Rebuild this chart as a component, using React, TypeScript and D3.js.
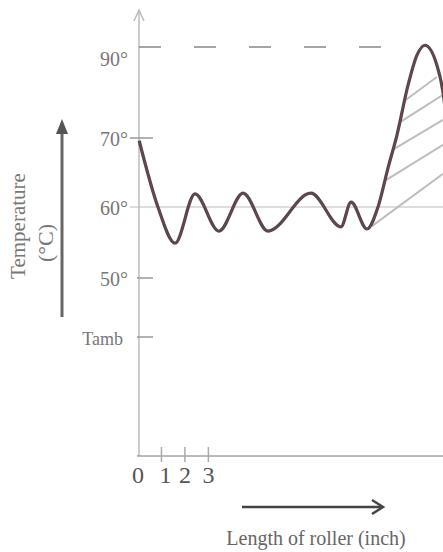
import React from "react";
import * as d3 from "d3";

// roller length (inch) vs temperature (°C), schematic
const curveX = [0.05, 0.85, 1.58, 2.43, 3.45, 4.48, 5.54, 7.37, 8.65, 9.08, 9.76, 10.23, 10.66, 11.04, 11.51, 11.89, 12.23, 12.74, 13.0, 13.17];
const curveT = [69.6, 60, 54.9, 61.9, 56.6, 62.0, 56.6, 62.0, 57.2, 60.7, 56.9, 60, 65.7, 70.7, 81.6, 88.2, 90.4, 86.0, 80.1, 72.9];

// hatch lines across the hot zone: [x1, t1, x2, t2]
const hatch = [
  [11.42, 78.4, 12.74, 83.4],
  [11.17, 73.5, 13.0, 79.5],
  [10.87, 68.3, 13.0, 74.0],
  [10.57, 63.9, 13.0, 69.0],
  [9.97, 57.3, 13.0, 64.8],
];

const yTickValues = [90, 70, 60, 50, 40];
const yTickLabels = ["90°", "70°", "60°", "50°", "Tamb"];
const xTickValues = [0, 1, 2, 3];
const xTickLabels = ["0", "1", "2", "3"];

const W = 443;
const H = 552;

export default function App() {
  const x = d3.scaleLinear().domain([0, 13]).range([138, 443]);
  // piecewise, as drawn in the sketch
  const y = d3
    .scaleLinear()
    .domain([20, 40, 50, 60, 70, 90, 98])
    .range([456, 337, 278, 207, 138, 47, 12]);

  const pts: [number, number][] = curveX.map((d, i) => [d, curveT[i]]);
  const line = d3
    .line<[number, number]>()
    .x((d) => x(d[0]))
    .y((d) => y(d[1]))
    .curve(d3.curveMonotoneX);
  const path = line(pts) || "";

  const axisX = x(0) + 1;

  return (
    <svg
      width={W}
      height={H}
      style={{ position: "absolute", left: 0, top: 0, background: "#fff" }}
    >
      <defs>
        <clipPath id="plot">
          <rect x={0} y={0} width={W} height={H} />
        </clipPath>
      </defs>

      {/* y axis with open arrow */}
      <line x1={axisX} y1={y(98)} x2={axisX} y2={y(20)} stroke="#bbb" strokeWidth={1.5} />
      <path
        d={`M${axisX - 5},${y(98) + 9} L${axisX},${y(98) - 2} L${axisX + 5},${y(98) + 9}`}
        fill="none"
        stroke="#bbb"
        strokeWidth={1.5}
      />

      {/* x axis */}
      <line x1={x(0) - 1} y1={y(20)} x2={W} y2={y(20)} stroke="#777" strokeWidth={1} />
      {xTickValues.slice(1).map((v) => (
        <line key={v} x1={x(v)} x2={x(v)} y1={y(20) - 9} y2={y(20) + 6} stroke="#aaa" strokeWidth={1.5} />
      ))}
      {xTickValues.map((v, i) => (
        <text
          key={v}
          x={x(v) + (i === 1 ? 4 : 0)}
          y={483}
          textAnchor="middle"
          fontFamily="Liberation Sans Narrow"
          fontSize={24}
          fill="#555"
        >
          {xTickLabels[i]}
        </text>
      ))}

      {/* reference lines */}
      <line
        x1={axisX}
        x2={410}
        y1={y(90)}
        y2={y(90)}
        stroke="#888"
        strokeWidth={1.5}
        strokeDasharray="22 33"
      />
      <line x1={130} x2={W} y1={y(60)} y2={y(60)} stroke="#bbb" strokeWidth={1} />

      {/* y ticks and labels */}
      {yTickValues.map((v, i) => (
        <g key={v}>
          {v !== 90 && v !== 60 && (
            <line x1={v === 70 ? 130 : 137} x2={153} y1={y(v)} y2={y(v)} stroke="#999" strokeWidth={1.5} />
          )}
          <text
            x={v === 40 ? 123 : 128}
            y={y(v) + (v === 90 ? 19 : 8)}
            textAnchor="end"
            fontFamily="Liberation Serif"
            fontSize={v === 40 ? 18 : 20}
            fill="#777"
          >
            {yTickLabels[i]}
          </text>
        </g>
      ))}

      {/* hatching */}
      <g clipPath="url(#plot)">
        {hatch.map((h, i) => (
          <line
            key={i}
            x1={x(h[0])}
            y1={y(h[1])}
            x2={x(h[2])}
            y2={y(h[3])}
            stroke="#bdbdbd"
            strokeWidth={2}
          />
        ))}
        <path d={path} fill="none" stroke="#4a4a4a" strokeWidth={3.2} />
        <path d={path} fill="none" stroke="#8a3a4c" strokeWidth={1} />
      </g>

      {/* y title with arrow */}
      <line x1={62} x2={62} y1={130} y2={317} stroke="#666" strokeWidth={3} />
      <path d="M56,134 L62,119 L68,134 Z" fill="#555" />
      <text
        transform="translate(25,226) rotate(-90)"
        textAnchor="middle"
        fontFamily="Liberation Serif"
        fontSize={21}
        fill="#777"
      >
        Temperature
      </text>
      <text
        transform="translate(53,243) rotate(-90)"
        textAnchor="middle"
        fontFamily="Liberation Serif"
        fontSize={22}
        fill="#777"
      >
        (°C)
      </text>

      {/* x title with arrow */}
      <line x1={242} x2={382} y1={507} y2={507} stroke="#444" strokeWidth={2.5} />
      <path d="M372,500 L383,507 L372,514" fill="none" stroke="#444" strokeWidth={2.5} />
      <text
        x={316}
        y={545}
        textAnchor="middle"
        fontFamily="Liberation Serif"
        fontSize={20}
        fill="#666"
      >
        Length of roller (inch)
      </text>
    </svg>
  );
}
